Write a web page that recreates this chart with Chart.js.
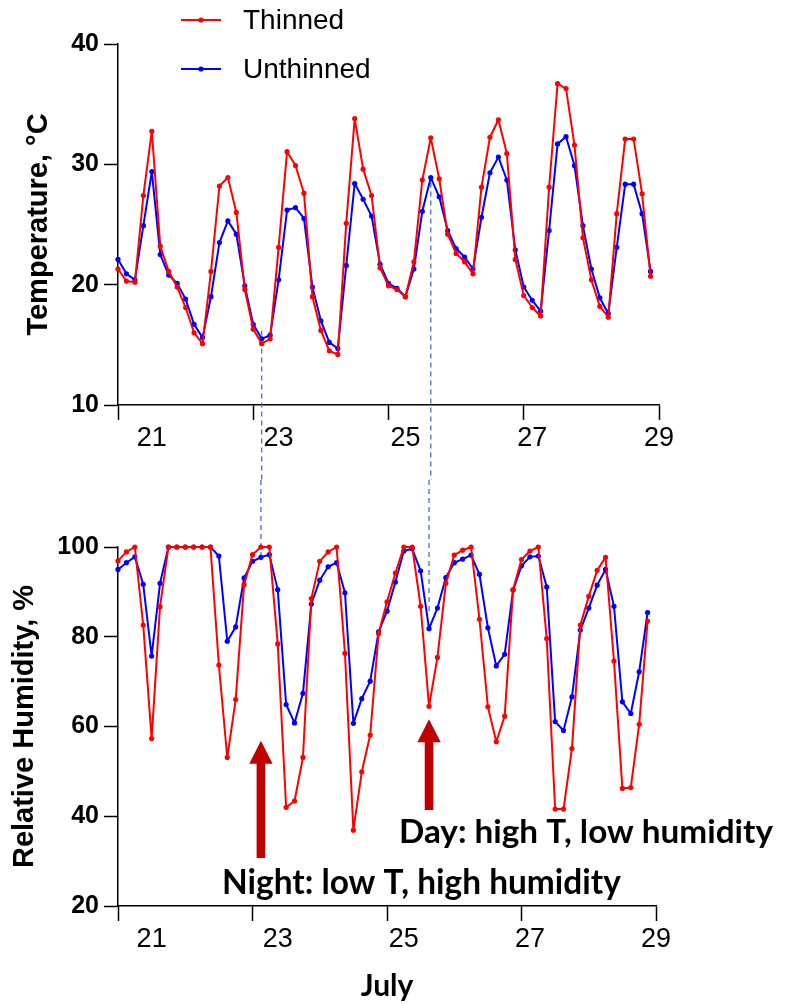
<!DOCTYPE html>
<html><head><meta charset="utf-8">
<script src="https://cdn.jsdelivr.net/npm/chart.js@4.4.1/dist/chart.umd.min.js"></script>
<style>
html,body{margin:0;padding:0;background:#fff;}
#wrap{position:relative;width:787px;height:1004px;overflow:hidden;background:#fff;}
canvas{position:absolute;left:0;}
</style></head><body>
<div id="wrap">
<canvas id="top" width="787" height="480" style="top:0"></canvas>
<canvas id="bot" width="787" height="524" style="top:480px"></canvas>
</div>
<script>
// ---- data (3-hour readings, index 0..63) ----
const seriesNames = ['Thinned', 'Unthinned'];
const thinnedTemp = [21.3,20.3,20.2,27.4,32.75,23.2,21.1,19.8,18.1,16.0,
  15.1,21.1,28.2,28.9,26.0,19.6,16.3,15.1,15.5,23.1,
  31.05,29.9,27.6,19.0,16.2,14.5,14.2,25.1,33.8,29.6,
  27.4,21.4,19.9,19.6,19.0,21.9,28.7,32.2,28.8,24.2,
  22.6,21.9,20.9,28.1,32.25,33.7,30.9,22.1,19.1,18.1,
  17.4,28.1,36.7,36.3,31.6,23.9,20.4,18.2,17.3,25.9,
  32.1,32.1,27.55,20.7];
const unthinnedTemp = [22.1,20.9,20.4,24.9,29.4,22.5,20.8,20.1,18.8,16.7,
  15.6,19.0,23.5,25.3,24.2,19.9,16.7,15.5,15.8,20.4,
  26.2,26.4,25.5,19.8,17.0,15.2,14.7,21.6,28.4,27.1,
  25.7,21.7,20.1,19.7,19.0,21.3,26.1,28.9,27.3,24.5,
  23.0,22.3,21.3,25.6,29.3,30.6,28.7,22.9,19.8,18.7,
  17.8,24.5,31.7,32.3,29.9,24.9,21.3,18.9,17.6,23.1,
  28.35,28.35,25.9,21.1];
const thinnedRH = [96.9,98.9,100,82.6,57.3,86.7,100,100,100,100,
  100,100,73.7,53.1,66.0,91.6,98.3,100,100,78.4,
  42.0,43.4,53.1,88.5,96.8,98.9,100,76.3,36.9,49.9,
  58.1,80.7,87.8,94.2,100,100,86.8,64.5,75.4,91.9,
  98.2,99.3,100,83.9,64.4,56.6,62.3,90.5,97.2,99.1,
  100,79.6,41.6,41.6,55.1,82.6,89.0,94.8,97.7,74.6,
  46.2,46.4,60.5,83.5];
const unthinnedRH = [95.0,96.5,97.8,91.7,75.7,91.9,100,100,100,100,
  100,100,98.0,79.0,82.2,93.1,96.8,97.7,98.3,90.5,
  64.9,60.8,67.4,87.3,92.6,95.6,96.5,89.8,60.7,66.2,
  70.1,81.1,85.7,92.2,99.1,99.6,94.7,81.8,86.4,93.2,
  96.5,97.3,98.2,93.9,82.0,73.5,76.1,90.4,95.8,97.8,
  98.0,91.1,61.1,59.1,66.6,81.5,86.4,91.5,95.0,86.8,
  65.5,62.9,72.2,85.4];
// x tick marks (day boundaries, every 16 readings) and date labels
const xTickMarks = [0, 16, 32, 48, 64];
const xLabelAt = [4, 19, 34, 49, 64];
const xLabels = ['21', '23', '25', '27', '29'];
const tempTicks = [10, 20, 30, 40];
const rhTicks = [20, 40, 60, 80, 100];
// annotations: dashed links (reading index, temp value, RH value)
const links = [{i: 17, t: 16.2, rh: 97.7}, {i: 37, t: 28.5, rh: 85.3}];
const arrows = [{i: 17, from: 30.7, to: 56.8}, {i: 37, from: 41.4, to: 61.6}];
const notes = ['Night: low T, high humidity', 'Day: high T, low humidity'];

const RED = '#FF0000', BLUE = '#0000FF', DARKRED = '#C00000', DASH = '#4472C4';
const SANS = "'Liberation Sans', Arial, sans-serif";
const NOTEFONT = "Lato, 'Open Sans', sans-serif";
Chart.defaults.font.family = SANS;
Chart.defaults.color = '#000';

const toXY = arr => arr.map((v, i) => ({x: i, y: v}));
const labelMap = {};
xLabelAt.forEach((p, k) => labelMap[p] = xLabels[k]);
const markSet = new Set(xTickMarks);
const allX = Array.from(new Set([...xTickMarks, ...xLabelAt])).sort((a, b) => a - b);

function ds(label, data, color) {
  return {label, data: toXY(data), borderColor: color, backgroundColor: color,
    borderWidth: 2, borderJoinStyle: 'round', pointRadius: 2.6, pointBorderWidth: 0, pointBackgroundColor: color,
    tension: 0, clip: false};
}

function xScale(height, title) {
  return {
    type: 'linear', min: 0, max: 64,
    afterBuildTicks: a => { a.ticks = allX.map(v => ({value: v})); },
    afterFit: s => { s.height = height; },
    border: {display: true, color: '#000', width: 1.5},
    grid: {display: true, drawOnChartArea: false, drawTicks: true, tickLength: 15, tickWidth: 1.5,
      tickColor: c => (c.tick && markSet.has(c.tick.value)) ? '#000' : 'rgba(0,0,0,0)'},
    ticks: {autoSkip: false, maxRotation: 0, minRotation: 0, padding: 2,
      font: {family: SANS, size: 27}, color: '#000', callback: v => labelMap[v] || ''},
    title: title ? {display: true, text: title, font: {family: NOTEFONT, size: 30, weight: 'bold'},
      color: '#000', padding: {top: 0, bottom: 0}} : {display: false}
  };
}
function yScale(min, max, ticks, title, titlePad) {
  return {
    type: 'linear', min, max,
    afterBuildTicks: a => { a.ticks = ticks.map(v => ({value: v})); },
    afterFit: s => { s.width = 118; },
    border: {display: true, color: '#000', width: 1.5},
    grid: {display: true, drawOnChartArea: false, drawTicks: true, tickLength: 14, tickWidth: 1.5, tickColor: '#000'},
    ticks: {padding: 5, font: {family: SANS, size: 25, weight: 'bold'}, color: '#000'},
    title: {display: true, text: title, font: {family: SANS, size: 29, weight: 'bold'}, color: '#000',
      padding: {top: titlePad, bottom: 0}}
  };
}

function drawArrow(ctx, x, yFrom, yTo) {
  const head = 23, half = 11.7, shaft = 4.3;
  ctx.save();
  ctx.fillStyle = DARKRED;
  ctx.beginPath();
  ctx.moveTo(x - shaft, yFrom);
  ctx.lineTo(x - shaft, yTo + head);
  ctx.lineTo(x - half, yTo + head);
  ctx.lineTo(x, yTo);
  ctx.lineTo(x + half, yTo + head);
  ctx.lineTo(x + shaft, yTo + head);
  ctx.lineTo(x + shaft, yFrom);
  ctx.closePath();
  ctx.fill();
  ctx.restore();
}
function fitText(ctx, text, left, cy, width) {
  ctx.save();
  ctx.font = 'bold 30px ' + NOTEFONT;
  const w = ctx.measureText(text).width;
  const size = 30 * width / w;
  ctx.font = 'bold ' + size.toFixed(2) + 'px ' + NOTEFONT;
  ctx.fillStyle = '#000';
  ctx.textAlign = 'left';
  ctx.textBaseline = 'middle';
  ctx.fillText(text, left, cy);
  ctx.restore();
}

const topPlugin = {
  id: 'topDecor',
  beforeDatasetsDraw(chart) {
    const {ctx} = chart, xs = chart.scales.x, ys = chart.scales.y;
    ctx.save();
    ctx.strokeStyle = DASH; ctx.lineWidth = 1.3; ctx.setLineDash([5, 4]);
    links.forEach(l => {
      const x = xs.getPixelForValue(l.i);
      ctx.beginPath(); ctx.moveTo(x, ys.getPixelForValue(l.t)); ctx.lineTo(x, chart.height); ctx.stroke();
    });
    ctx.restore();
  },
  afterDraw(chart) {
    const {ctx} = chart;
    ctx.save();
    chart.data.datasets.forEach((d, k) => {
      const y = 20 + k * 49;
      ctx.strokeStyle = d.borderColor; ctx.lineWidth = 2;
      ctx.beginPath(); ctx.moveTo(181, y); ctx.lineTo(221, y); ctx.stroke();
      ctx.fillStyle = d.borderColor;
      ctx.beginPath(); ctx.arc(201, y, 2.6, 0, Math.PI * 2); ctx.fill();
      ctx.fillStyle = '#000';
      ctx.font = '28px ' + SANS; ctx.textAlign = 'left'; ctx.textBaseline = 'middle';
      ctx.fillText(d.label, 243, y + 1);
    });
    ctx.restore();
  }
};
const botPlugin = {
  id: 'botDecor',
  beforeDatasetsDraw(chart) {
    const {ctx} = chart, xs = chart.scales.x, ys = chart.scales.y;
    ctx.save();
    ctx.strokeStyle = DASH; ctx.lineWidth = 1.3; ctx.setLineDash([5, 4]);
    links.forEach(l => {
      const x = xs.getPixelForValue(l.i);
      ctx.beginPath(); ctx.moveTo(x, 0); ctx.lineTo(x, ys.getPixelForValue(l.rh)); ctx.stroke();
    });
    ctx.restore();
  },
  afterDraw(chart) {
    const {ctx} = chart, xs = chart.scales.x, ys = chart.scales.y;
    arrows.forEach(a => drawArrow(ctx, xs.getPixelForValue(a.i), ys.getPixelForValue(a.from), ys.getPixelForValue(a.to)));
    fitText(ctx, notes[0], 222, 403, 399);
    fitText(ctx, notes[1], 399, 352, 374);
  }
};

const common = {
  responsive: false, animation: false,
  plugins: {legend: {display: false}, tooltip: {enabled: false}},
  events: []
};

new Chart(document.getElementById('top'), {
  type: 'line',
  data: {datasets: [ds(seriesNames[0], thinnedTemp, RED), ds(seriesNames[1], unthinnedTemp, BLUE)]},
  options: Object.assign({}, common, {
    layout: {padding: {top: 44, right: 128, bottom: 0, left: 0}},
    scales: {x: xScale(75, null), y: yScale(10, 40, tempTicks, 'Temperature, \u00B0C', 22)}
  }),
  plugins: [topPlugin]
});

new Chart(document.getElementById('bot'), {
  type: 'line',
  data: {datasets: [ds(seriesNames[0], thinnedRH, RED), ds(seriesNames[1], unthinnedRH, BLUE)]},
  options: Object.assign({}, common, {
    layout: {padding: {top: 67, right: 131, bottom: 0, left: 0}},
    scales: {x: xScale(98, 'July'), y: yScale(20, 100, rhTicks, 'Relative Humidity, %', 8)}
  }),
  plugins: [botPlugin]
});
</script>
</body></html>
